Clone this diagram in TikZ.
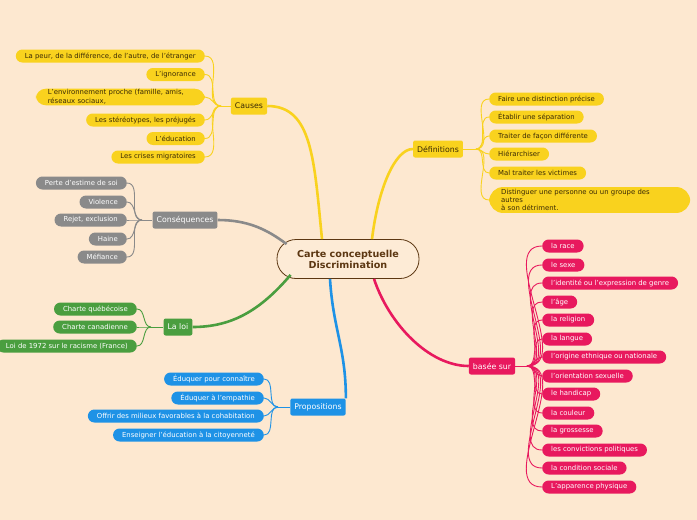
\documentclass[tikz,border=0pt]{standalone}
\usepackage{fontspec}
\setmainfont{DejaVu Sans}
\usepackage{xcolor}
\definecolor{fond}{HTML}{FDE8D0}
\definecolor{centrefond}{HTML}{FDEBD6}
\definecolor{brunfonce}{HTML}{5C3712}
\definecolor{jaune}{HTML}{F9D21E}
\definecolor{textejaune}{HTML}{3A2A05}
\definecolor{gris}{HTML}{8A8A8A}
\definecolor{vert}{HTML}{4A9E3F}
\definecolor{bleu}{HTML}{1E92E6}
\definecolor{rose}{HTML}{E8195E}
\tikzset{
  leaf/.style={rounded corners=6.5pt, minimum height=13pt, inner xsep=9pt, inner ysep=1pt, font=\fontsize{6.9}{8.5}\selectfont},
  branch/.style={rounded corners=2pt, minimum height=17pt, inner xsep=4pt, font=\fontsize{7.8}{9}\selectfont},
  centre/.style={draw=brunfonce, fill=centrefond, line width=0.8pt, rounded corners=19pt, minimum width=142pt, minimum height=39pt, align=center, text=brunfonce, font=\fontsize{9.6}{11}\selectfont\bfseries},
  thick branch/.style={line width=2.6pt},
  thin branch/.style={line width=0.9pt}
}
\begin{document}
\begin{tikzpicture}[x=1pt,y=-1pt]
            \fill[fond] (0,0) rectangle (697,520);
            \useasboundingbox (0,0) rectangle (697,520);
            % centre
            \node[centre] (M) at (348,259){Carte conceptuelle\\Discrimination};
            % branches
            \node[branch, fill=jaune, text=textejaune] (C) at (249,106){Causes};
            \node[branch, fill=gris, text=white] (Q) at (185,220){Conséquences};
            \node[branch, fill=vert, text=white] (L) at (178,327){La loi};
            \node[branch, fill=bleu, text=white] (P) at (318,407){Propositions};
            \node[branch, fill=jaune, text=textejaune] (D) at (438,149){Définitions};
            \node[branch, fill=rose, text=white] (B) at (492,366){basée sur};
            \draw[thick branch, jaune] ([xshift=-26pt]M.north) .. controls +(-8,-80) and +(45,0) .. (C.east);
            \draw[thick branch, jaune] ([xshift=24pt]M.north) .. controls +(6,-50) and +(-18,0) .. (D.west);
            \draw[thick branch, gris] ([xshift=10pt,yshift=-5pt]M.north west) .. controls +(-20,-15) and +(30,0) .. (Q.east);
            \draw[thick branch, vert] ([xshift=14pt,yshift=4pt]M.south west) .. controls +(-30,35) and +(40,0) .. (L.east);
            \draw[thick branch, bleu] ([xshift=-18pt]M.south) .. controls +(3,50) and +(0,-50) .. (P.north east);
            \draw[thick branch, rose] ([xshift=26pt]M.south) .. controls +(15,45) and +(-40,0) .. (B.west);
            % Causes
            \node[leaf, fill=jaune, text=textejaune, anchor=east] (C1) at (205,56){La peur, de la différence, de l'autre, de l'étranger};
            \node[leaf, fill=jaune, text=textejaune, anchor=east] (C2) at (205,74.5){L'ignorance};
            \node[leaf, fill=jaune, text=textejaune, anchor=east, rounded corners=10pt, text width=145pt, inner xsep=12pt, align=left] (C3) at (205,97){L'environnement proche (famille, amis,\\réseaux sociaux,};
            \node[leaf, fill=jaune, text=textejaune, anchor=east] (C4) at (205,120){Les stéréotypes, les préjugés};
            \node[leaf, fill=jaune, text=textejaune, anchor=east] (C5) at (205,138.5){L'éducation};
            \node[leaf, fill=jaune, text=textejaune, anchor=east] (C6) at (205,157){Les crises migratoires};
            \coordinate (c0) at (221,106);
            \draw[thin branch, jaune] (C.west) -- (c0);
            \draw[thin branch, jaune] (c0) to[out=180, in=0] (C1.east);
            \draw[thin branch, jaune] (c0) to[out=180, in=0] (C2.east);
            \draw[thin branch, jaune] (c0) to[out=180, in=0] (C3.east);
            \draw[thin branch, jaune] (c0) to[out=180, in=0] (C4.east);
            \draw[thin branch, jaune] (c0) to[out=180, in=0] (C5.east);
            \draw[thin branch, jaune] (c0) to[out=180, in=0] (C6.east);
            % Conséquences
            \node[leaf, fill=gris, text=white, anchor=east] (Q1) at (127,183){Perte d'estime de soi};
            \node[leaf, fill=gris, text=white, anchor=east] (Q2) at (127,202){Violence};
            \node[leaf, fill=gris, text=white, anchor=east] (Q3) at (127,220){Rejet, exclusion};
            \node[leaf, fill=gris, text=white, anchor=east] (Q4) at (127,239){Haine};
            \node[leaf, fill=gris, text=white, anchor=east] (Q5) at (127,257){Méfiance};
            \coordinate (q0) at (142,220);
            \draw[thin branch, gris] (Q.west) -- (q0);
            \draw[thin branch, gris] (q0) to[out=180, in=0] (Q1.east);
            \draw[thin branch, gris] (q0) to[out=180, in=0] (Q2.east);
            \draw[thin branch, gris] (q0) to[out=180, in=0] (Q3.east);
            \draw[thin branch, gris] (q0) to[out=180, in=0] (Q4.east);
            \draw[thin branch, gris] (q0) to[out=180, in=0] (Q5.east);
            % La loi
            \node[leaf, fill=vert, text=white, anchor=east] (L1) at (137,309){Charte québécoise};
            \node[leaf, fill=vert, text=white, anchor=east] (L2) at (137,327){Charte canadienne};
            \node[leaf, fill=vert, text=white, anchor=east] (L3) at (137,346){Loi de 1972 sur le racisme (France)};
            \coordinate (l0) at (151,327);
            \draw[thin branch, vert] (L.west) -- (l0);
            \draw[thin branch, vert] (l0) to[out=180, in=0] (L1.east);
            \draw[thin branch, vert] (l0) to[out=180, in=0] (L2.east);
            \draw[thin branch, vert] (l0) to[out=180, in=0] (L3.east);
            % Propositions
            \node[leaf, fill=bleu, text=white, anchor=east] (P1) at (264,379){Éduquer pour connaître};
            \node[leaf, fill=bleu, text=white, anchor=east] (P2) at (264,398){Éduquer à l'empathie};
            \node[leaf, fill=bleu, text=white, anchor=east] (P3) at (264,416){Offrir des milieux favorables à la cohabitation};
            \node[leaf, fill=bleu, text=white, anchor=east] (P4) at (264,435){Enseigner l'éducation à la citoyenneté};
            \coordinate (p0) at (278,407);
            \draw[thin branch, bleu] (P.west) -- (p0);
            \draw[thin branch, bleu] (p0) to[out=180, in=0] (P1.east);
            \draw[thin branch, bleu] (p0) to[out=180, in=0] (P2.east);
            \draw[thin branch, bleu] (p0) to[out=180, in=0] (P3.east);
            \draw[thin branch, bleu] (p0) to[out=180, in=0] (P4.east);
            % Définitions
            \node[leaf, fill=jaune, text=textejaune, anchor=west] (D1) at (489,99){Faire une distinction précise};
            \node[leaf, fill=jaune, text=textejaune, anchor=west] (D2) at (489,117){Établir une séparation};
            \node[leaf, fill=jaune, text=textejaune, anchor=west] (D3) at (489,136){Traiter de façon différente};
            \node[leaf, fill=jaune, text=textejaune, anchor=west] (D4) at (489,154){Hiérarchiser};
            \node[leaf, fill=jaune, text=textejaune, anchor=west] (D5) at (489,173){Mal traiter les victimes};
            \node[leaf, fill=jaune, text=textejaune, anchor=west, rounded corners=14pt, text width=177pt, inner xsep=12pt, inner ysep=2pt, align=left, font=\fontsize{6.9}{8.3}\selectfont] (D6) at (489,200){Distinguer une personne ou un groupe des\\autres\\à son détriment.};
            \coordinate (d0) at (476,149);
            \draw[thin branch, jaune] (D.east) -- (d0);
            \draw[thin branch, jaune] (d0) to[out=0, in=180] (D1.west);
            \draw[thin branch, jaune] (d0) to[out=0, in=180] (D2.west);
            \draw[thin branch, jaune] (d0) to[out=0, in=180] (D3.west);
            \draw[thin branch, jaune] (d0) to[out=0, in=180] (D4.west);
            \draw[thin branch, jaune] (d0) to[out=0, in=180] (D5.west);
            \draw[thin branch, jaune] (d0) to[out=0, in=180] (D6.west);
            % basée sur
            \node[leaf, fill=rose, text=white, anchor=west] (B1) at (542,246){la race};
            \node[leaf, fill=rose, text=white, anchor=west] (B2) at (542,265){le sexe};
            \node[leaf, fill=rose, text=white, anchor=west] (B3) at (542,283){l'identité ou l'expression de genre};
            \node[leaf, fill=rose, text=white, anchor=west] (B4) at (542,302){l'âge};
            \node[leaf, fill=rose, text=white, anchor=west] (B5) at (542,320){la religion};
            \node[leaf, fill=rose, text=white, anchor=west] (B6) at (542,339){la langue};
            \node[leaf, fill=rose, text=white, anchor=west] (B7) at (542,357){l'origine ethnique ou nationale};
            \node[leaf, fill=rose, text=white, anchor=west] (B8) at (542,376){l'orientation sexuelle};
            \node[leaf, fill=rose, text=white, anchor=west] (B9) at (542,394){le handicap};
            \node[leaf, fill=rose, text=white, anchor=west] (B10) at (542,413){la couleur};
            \node[leaf, fill=rose, text=white, anchor=west] (B11) at (542,431){la grossesse};
            \node[leaf, fill=rose, text=white, anchor=west] (B12) at (542,450){les convictions politiques};
            \node[leaf, fill=rose, text=white, anchor=west] (B13) at (542,468){la condition sociale};
            \node[leaf, fill=rose, text=white, anchor=west] (B14) at (542,487){L'apparence physique};
            \coordinate (b0) at (527,366);
            \draw[thin branch, rose] (B.east) -- (b0);
            \draw[thin branch, rose] (b0) to[out=0, in=180] (B1.west);
            \draw[thin branch, rose] (b0) to[out=0, in=180] (B2.west);
            \draw[thin branch, rose] (b0) to[out=0, in=180] (B3.west);
            \draw[thin branch, rose] (b0) to[out=0, in=180] (B4.west);
            \draw[thin branch, rose] (b0) to[out=0, in=180] (B5.west);
            \draw[thin branch, rose] (b0) to[out=0, in=180] (B6.west);
            \draw[thin branch, rose] (b0) to[out=0, in=180] (B7.west);
            \draw[thin branch, rose] (b0) to[out=0, in=180] (B8.west);
            \draw[thin branch, rose] (b0) to[out=0, in=180] (B9.west);
            \draw[thin branch, rose] (b0) to[out=0, in=180] (B10.west);
            \draw[thin branch, rose] (b0) to[out=0, in=180] (B11.west);
            \draw[thin branch, rose] (b0) to[out=0, in=180] (B12.west);
            \draw[thin branch, rose] (b0) to[out=0, in=180] (B13.west);
            \draw[thin branch, rose] (b0) to[out=0, in=180] (B14.west);
\end{tikzpicture}
\end{document}
